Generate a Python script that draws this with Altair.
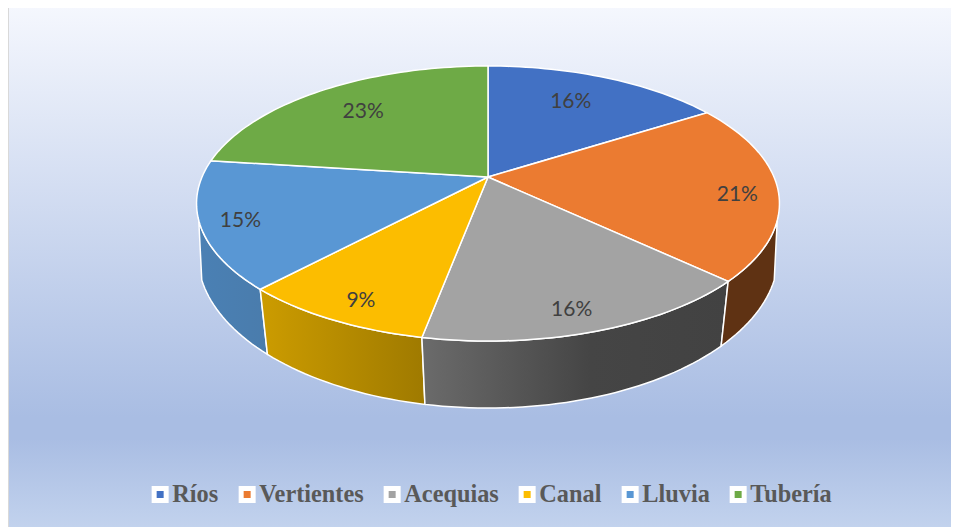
import math
import altair as alt
import pandas as pd

# ---- chart values ----
SERIES = ["Ríos", "Vertientes", "Acequias", "Canal", "Lluvia", "Tubería"]
SHARES = [16, 21, 16, 9, 15, 23]
COLORS = ["#4271C4", "#EB7B31", "#A3A3A3", "#FCBD00", "#5997D4", "#6EAA46"]
LABEL_R = [0.73, 0.86, 0.87, 0.87, 0.87, 0.74]
LABEL_SHIFT = [-2.3, 2.5, 1.6, -1.3, -0.7, 0.6]

# ---- perspective model of the tilted disc ----
CX = 488
TOP = dict(cy=177, a=286, b=132.4, k=0.1927)
BOT = dict(cy=231.6, a=287, b=150, k=0.15)
W, H = 943, 519
XS = alt.Scale(domain=[8, 951])
YS = alt.Scale(domain=[527, 8])


def project(turn_deg, disc, r=1.0):
    t = math.radians(turn_deg)
    u, v = r * math.sin(t), r * math.cos(t)
    d = 1 + disc["k"] * v
    return CX + disc["a"] * u / d, disc["cy"] - disc["b"] * v / d


def arc(a0, a1, disc):
    n = max(2, int(abs(a1 - a0) / 1.5))
    return [project(a0 + (a1 - a0) * i / n, disc) for i in range(n + 1)]


def grad(stops):
    return alt.LinearGradient(
        gradient="linear", x1=0, x2=1, y1=0, y2=0,
        stops=[alt.GradientStop(color=c, offset=o) for o, c in stops],
    )


def xy():
    return dict(
        x=alt.X("x:Q", scale=XS, axis=None),
        y=alt.Y("y:Q", scale=YS, axis=None),
        order=alt.Order("i:Q"),
    )


edges = [0]
for s in SHARES:
    edges.append(edges[-1] + s * 3.6)

# background
bg = alt.Chart(alt.Data(values=[{"a": 1}])).mark_rect(
    color=alt.LinearGradient(
        gradient="linear", x1=0, x2=0, y1=0, y2=1,
        stops=[
            alt.GradientStop(color="#F6F8FE", offset=0),
            alt.GradientStop(color="#A9BDE3", offset=0.78),
            alt.GradientStop(color="#A9BDE3", offset=0.82),
            alt.GradientStop(color="#C4D4EE", offset=1),
        ],
    ),
    stroke="#D9D9D9", strokeWidth=2,
).encode(x=alt.value(0), x2=alt.value(W + 8), y=alt.value(-8), y2=alt.value(H + 8))

# side walls: (from angle, to angle, gradient stops left to right)
WALLS = [
    (edges[4], 252, [(0, "#4A80B4"), (1, "#4A7CAC")]),
    (edges[3], edges[4], [(0, "#CC9C00"), (1, "#9F7A00")]),
    (edges[2], edges[3], [(0, "#6B6B6B"), (0.55, "#454545"), (1, "#424242")]),
    (108, edges[2], [(0, "#5F3213"), (1, "#5F3213")]),
]
layers = [bg]
for a0, a1, stops in WALLS:
    pts = arc(a0, a1, TOP) + arc(a1, a0, BOT)
    df = pd.DataFrame({"x": [p[0] for p in pts], "y": [p[1] for p in pts], "i": range(len(pts))})
    layers.append(
        alt.Chart(df).mark_line(
            interpolate="linear-closed", fill=grad(stops),
            stroke="white", strokeWidth=1.5,
        ).encode(**xy())
    )

# top slices
rows = []
for s, a0, a1 in zip(SERIES, edges[:-1], edges[1:]):
    pts = [(CX, TOP["cy"])] + arc(a0, a1, TOP)
    for i, p in enumerate(pts):
        rows.append({"serie": s, "x": p[0], "y": p[1], "i": i})
tops = alt.Chart(pd.DataFrame(rows)).mark_line(
    interpolate="linear-closed", stroke="white", strokeWidth=1.5
).encode(
    fill=alt.Fill("serie:N", scale=alt.Scale(domain=SERIES, range=COLORS), legend=None),
    **xy(),
)
layers.append(tops)

# legend carrier: an invisible point per series
legend_layer = alt.Chart(pd.DataFrame({"serie": SERIES, "x": [CX] * 6, "y": [TOP["cy"]] * 6})).mark_square(
    size=0, filled=True
).encode(
    x=alt.X("x:Q", scale=XS, axis=None),
    y=alt.Y("y:Q", scale=YS, axis=None),
    color=alt.Color(
        "serie:N",
        scale=alt.Scale(domain=SERIES, range=COLORS),
        legend=alt.Legend(
            title=None, orient="none", legendX=140, legendY=474, direction="horizontal",
            columns=6, symbolType="square", symbolSize=144, symbolStrokeColor="white",
            symbolStrokeWidth=5, symbolOpacity=1, labelFont="Liberation Serif",
            labelFontWeight="bold", labelFontSize=24.3, labelColor="#595959", labelOffset=0,
            columnPadding=12, labelLimit=200,
        ),
    ),
)
layers.append(legend_layer)

# percent labels
lab = []
for s, v, a0, a1, r, sh in zip(SERIES, SHARES, edges[:-1], edges[1:], LABEL_R, LABEL_SHIFT):
    x, y = project((a0 + a1) / 2 + sh, TOP, r)
    lab.append({"x": x, "y": y, "t": f"{v}%"})
labels = alt.Chart(pd.DataFrame(lab)).mark_text(
    font="Lato", fontSize=21, color="#404040", align="center", baseline="middle", dy=1.5
).encode(x=alt.X("x:Q", scale=XS, axis=None), y=alt.Y("y:Q", scale=YS, axis=None), text="t:N")
layers.append(labels)

chart = alt.layer(*layers).resolve_scale(color="independent", fill="independent").properties(
    width=W, height=H, padding=0, autosize=alt.AutoSizeParams(type="none")
).configure_view(stroke=None)

chart.save("out.html", embed_options={"renderer": "svg", "actions": False})
